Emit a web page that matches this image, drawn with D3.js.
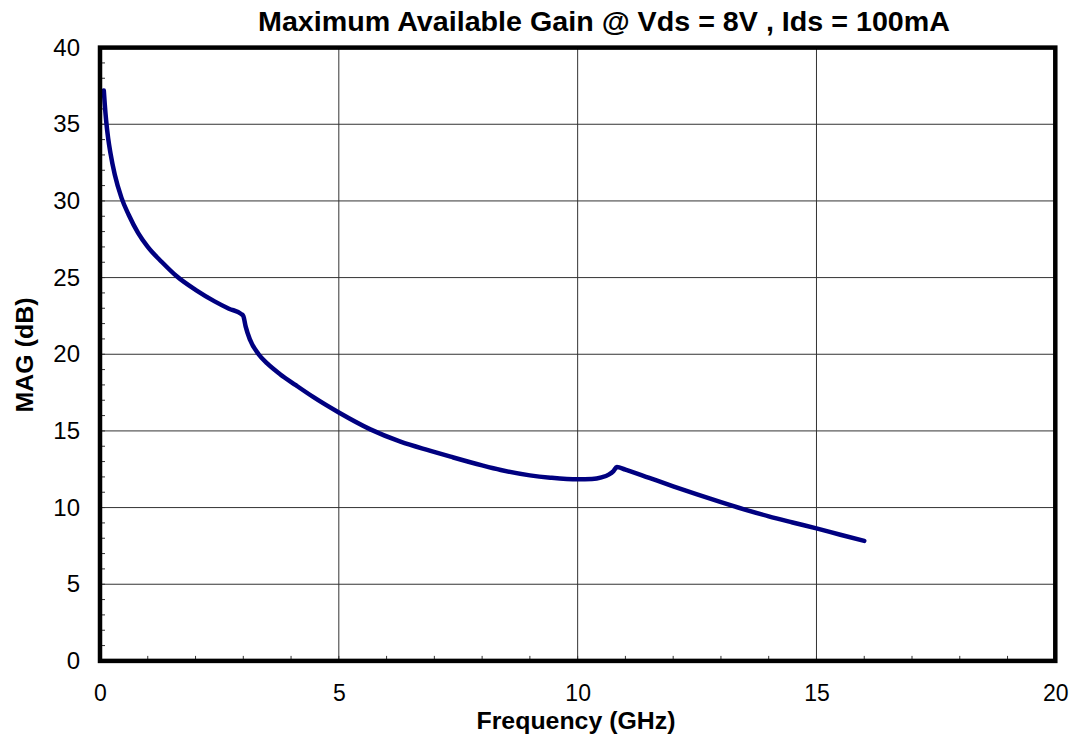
<!DOCTYPE html>
<html>
<head>
<meta charset="utf-8">
<script src="https://cdn.jsdelivr.net/npm/d3@7"></script>
<style>
  html, body { margin: 0; padding: 0; background: #fff; }
  text { font-family: "Liberation Sans", Arial, sans-serif; }
</style>
</head>
<body>
<script>
const titleText = "Maximum Available Gain @ Vds = 8V , Ids = 100mA";
const xLabel = "Frequency (GHz)";
const yLabel = "MAG (dB)";
const xTicks = [0, 5, 10, 15, 20];
const yTicks = [0, 5, 10, 15, 20, 25, 30, 35, 40];
const freq = [0.08, 0.10, 0.13, 0.17, 0.22, 0.31, 0.45, 0.6, 0.8, 1.0, 1.3, 1.6, 2.0, 2.4, 2.7, 2.96,
  3.0, 3.05, 3.14, 3.32, 3.5, 3.77, 4.1, 4.47, 5.0, 5.66, 6.29, 6.92, 7.34, 8.0, 8.39, 9.0, 9.43, 10.0,
  10.3, 10.5, 10.65, 10.75, 10.82, 11.0, 11.5, 12.0, 12.5, 13.0, 13.5, 14.0, 14.5, 15.0, 15.5, 16.0];
const mag = [37.2, 36.3, 35.2, 34.1, 33.1, 31.7, 30.2, 29.1, 27.9, 27.0, 26.0, 25.1, 24.2, 23.45, 22.97, 22.62,
  22.5, 21.8, 20.95, 20.0, 19.4, 18.7, 17.98, 17.2, 16.2, 15.1, 14.3, 13.7, 13.32, 12.75, 12.45, 12.1, 11.95, 11.84,
  11.86, 11.97, 12.15, 12.38, 12.64, 12.47, 11.93, 11.39, 10.86, 10.35, 9.87, 9.43, 9.03, 8.64, 8.23, 7.83];

const W = 1075, H = 740;
const L = 100, R = 1055.3, T = 47.6, B = 660.9;
const FONT = "'Liberation Sans', Arial, sans-serif";

const svg = d3.select("body").append("svg").attr("width", W).attr("height", H)
  .style("display", "block").style("background", "#fff");

const x = d3.scaleLinear().domain([0, 20]).range([L, R]);
const y = d3.scaleLinear().domain([0, 40]).range([B, T]);

// gridlines
svg.append("g").selectAll("line").data(xTicks.filter(d => d > 0 && d < 20)).enter()
  .append("line").attr("x1", d => x(d)).attr("x2", d => x(d)).attr("y1", T).attr("y2", B)
  .attr("stroke", "#333").attr("stroke-width", 1);
svg.append("g").selectAll("line").data(yTicks.filter(d => d > 0 && d < 40)).enter()
  .append("line").attr("y1", d => y(d)).attr("y2", d => y(d)).attr("x1", L).attr("x2", R)
  .attr("stroke", "#333").attr("stroke-width", 1);

// minor ticks (inside)
svg.append("g").selectAll("line").data(d3.range(1, 20)).enter()
  .append("line").attr("x1", d => x(d)).attr("x2", d => x(d)).attr("y1", B).attr("y2", B - 5)
  .attr("stroke", "#333").attr("stroke-width", 1);
svg.append("g").selectAll("line").data(d3.range(1, 40)).enter()
  .append("line").attr("y1", d => y(d)).attr("y2", d => y(d)).attr("x1", L).attr("x2", L + 5)
  .attr("stroke", "#333").attr("stroke-width", 1);

// axes tick labels
const xAxis = svg.append("g").attr("transform", `translate(0,${B})`)
  .call(d3.axisBottom(x).tickValues(xTicks).tickSize(0).tickPadding(24));
xAxis.select(".domain").remove();
xAxis.selectAll("text").attr("font-size", 23).attr("fill", "#000").style("font-family", FONT);

const yAxis = svg.append("g").attr("transform", `translate(${L},0)`)
  .call(d3.axisLeft(y).tickValues(yTicks).tickSize(0).tickPadding(20));
yAxis.select(".domain").remove();
yAxis.selectAll("text").attr("font-size", 24).attr("fill", "#000").style("font-family", FONT);

// curve
const pts = freq.map((f, i) => [f, mag[i]]);
svg.append("path").datum(pts)
  .attr("d", d3.line().x(d => x(d[0])).y(d => y(d[1])).curve(d3.curveMonotoneX))
  .attr("fill", "none").attr("stroke", "#000080").attr("stroke-width", 4.5)
  .attr("stroke-linecap", "round").attr("stroke-linejoin", "round");

// frame
svg.append("rect").attr("x", L).attr("y", T).attr("width", R - L).attr("height", B - T)
  .attr("fill", "none").attr("stroke", "#000").attr("stroke-width", 4.5);

// titles
svg.append("text").attr("x", 604).attr("y", 31).attr("text-anchor", "middle")
  .attr("font-size", 27).attr("font-weight", "bold")
  .attr("textLength", 692).attr("lengthAdjust", "spacingAndGlyphs").text(titleText);
svg.append("text").attr("x", 576).attr("y", 729).attr("text-anchor", "middle")
  .attr("font-size", 23).attr("font-weight", "bold")
  .attr("textLength", 199).attr("lengthAdjust", "spacingAndGlyphs").text(xLabel);
svg.append("text").attr("transform", "translate(33,355) rotate(-90)").attr("text-anchor", "middle")
  .attr("font-size", 24).attr("font-weight", "bold")
  .attr("textLength", 115).attr("lengthAdjust", "spacingAndGlyphs").text(yLabel);
</script>
</body>
</html>
